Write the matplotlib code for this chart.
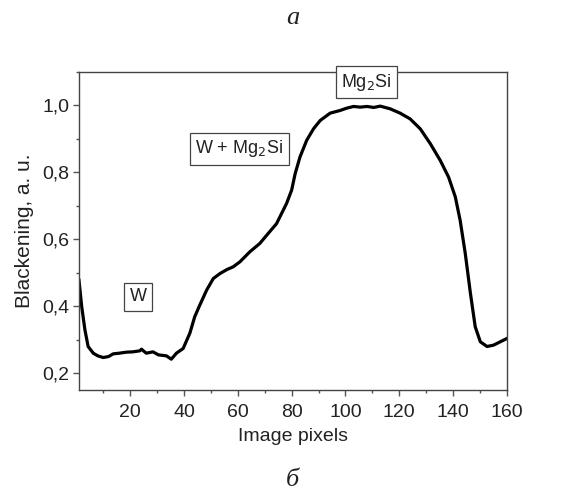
import matplotlib
matplotlib.use("Agg")
import matplotlib.pyplot as plt
from matplotlib.ticker import MultipleLocator, FuncFormatter

plt.rcParams['font.family'] = ['Liberation Sans', 'DejaVu Sans']

# profile
pixels = [1, 2, 3.2, 4.4, 6.3, 8, 10, 12, 13.7, 16, 18.6, 21, 23.6, 24.2, 26, 28.5,
          30.5, 33.5, 35.3, 37.2, 39.7, 42.2, 44, 45.9, 48.4, 50.9, 53.4, 56, 58.3,
          60.8, 64.5, 68.2, 70.7, 74.4, 78.1, 80, 81.3, 83.1, 85.6, 88.1, 90.6, 94.3,
          98, 100.5, 103, 105.5, 108, 110.5, 112.9, 116.6, 120.3, 124, 127.8, 131.5,
          135.2, 138.3, 140.8, 142.6, 144.5, 146.4, 148.2, 150.1, 152.6, 155, 157.5, 160]
blackening = [0.478, 0.40, 0.33, 0.28, 0.26, 0.252, 0.247, 0.250, 0.258, 0.260, 0.263,
              0.264, 0.267, 0.272, 0.260, 0.264, 0.255, 0.252, 0.242, 0.260, 0.274,
              0.32, 0.369, 0.404, 0.448, 0.483, 0.498, 0.510, 0.518, 0.533, 0.563,
              0.588, 0.612, 0.647, 0.707, 0.747, 0.796, 0.846, 0.896, 0.930, 0.955,
              0.977, 0.985, 0.992, 0.997, 0.995, 0.997, 0.994, 0.998, 0.990, 0.977,
              0.960, 0.930, 0.886, 0.836, 0.786, 0.727, 0.657, 0.558, 0.44, 0.339,
              0.294, 0.280, 0.284, 0.294, 0.304]

labels = ["W", "W + Mg$_2$Si", "Mg$_2$Si"]
label_x = [22.9, 60.5, 107.8]
label_y = [0.428, 0.87, 1.07]

fig = plt.figure(figsize=(5.82, 4.92), dpi=100)
ax = fig.add_axes([0.1357, 0.2073, 0.7354, 0.6464])

ax.plot(pixels, blackening, color='black', lw=2.3, solid_joinstyle='round')
ax.set_xlim(1, 160)
ax.set_ylim(0.15, 1.1)

ax.xaxis.set_major_locator(MultipleLocator(20))
ax.xaxis.set_minor_locator(MultipleLocator(10))
ax.yaxis.set_major_locator(MultipleLocator(0.2))
ax.yaxis.set_minor_locator(MultipleLocator(0.1))
ax.yaxis.set_major_formatter(FuncFormatter(lambda v, p: f"{v:.1f}".replace('.', ',')))

ax.tick_params(which='both', direction='out', color='#555555', top=False, right=False,
               labelsize=14, labelcolor='#222222')
ax.tick_params(which='major', length=4, width=1)
ax.tick_params(which='minor', length=2.5, width=1)
ax.tick_params(axis='x', which='major', pad=6)
ax.tick_params(axis='y', which='major', pad=3)
for s in ax.spines.values():
    s.set_color('#444444')
    s.set_linewidth(1)

ax.set_xlabel("Image pixels", fontsize=14, color='#222222', labelpad=5)
ax.set_ylabel("Blackening, a. u.", fontsize=15, color='#222222', labelpad=6)

for t, x, y in zip(labels, label_x, label_y):
    ax.text(x, y, t, ha='center', va='center', fontsize=13, color='#222222',
            clip_on=False, zorder=5,
            bbox=dict(boxstyle='square,pad=0.3', fc='white', ec='#444444', lw=0.9))

fig.text(0.503, 0.963, "а", ha='center', va='center', fontsize=19, style='italic',
         family=['Liberation Serif', 'DejaVu Serif'], color='#222222')
fig.text(0.503, 0.025, "б", ha='center', va='center', fontsize=19, style='italic',
         family=['Liberation Serif', 'DejaVu Serif'], color='#222222')

fig.savefig("out.png", dpi=100)
